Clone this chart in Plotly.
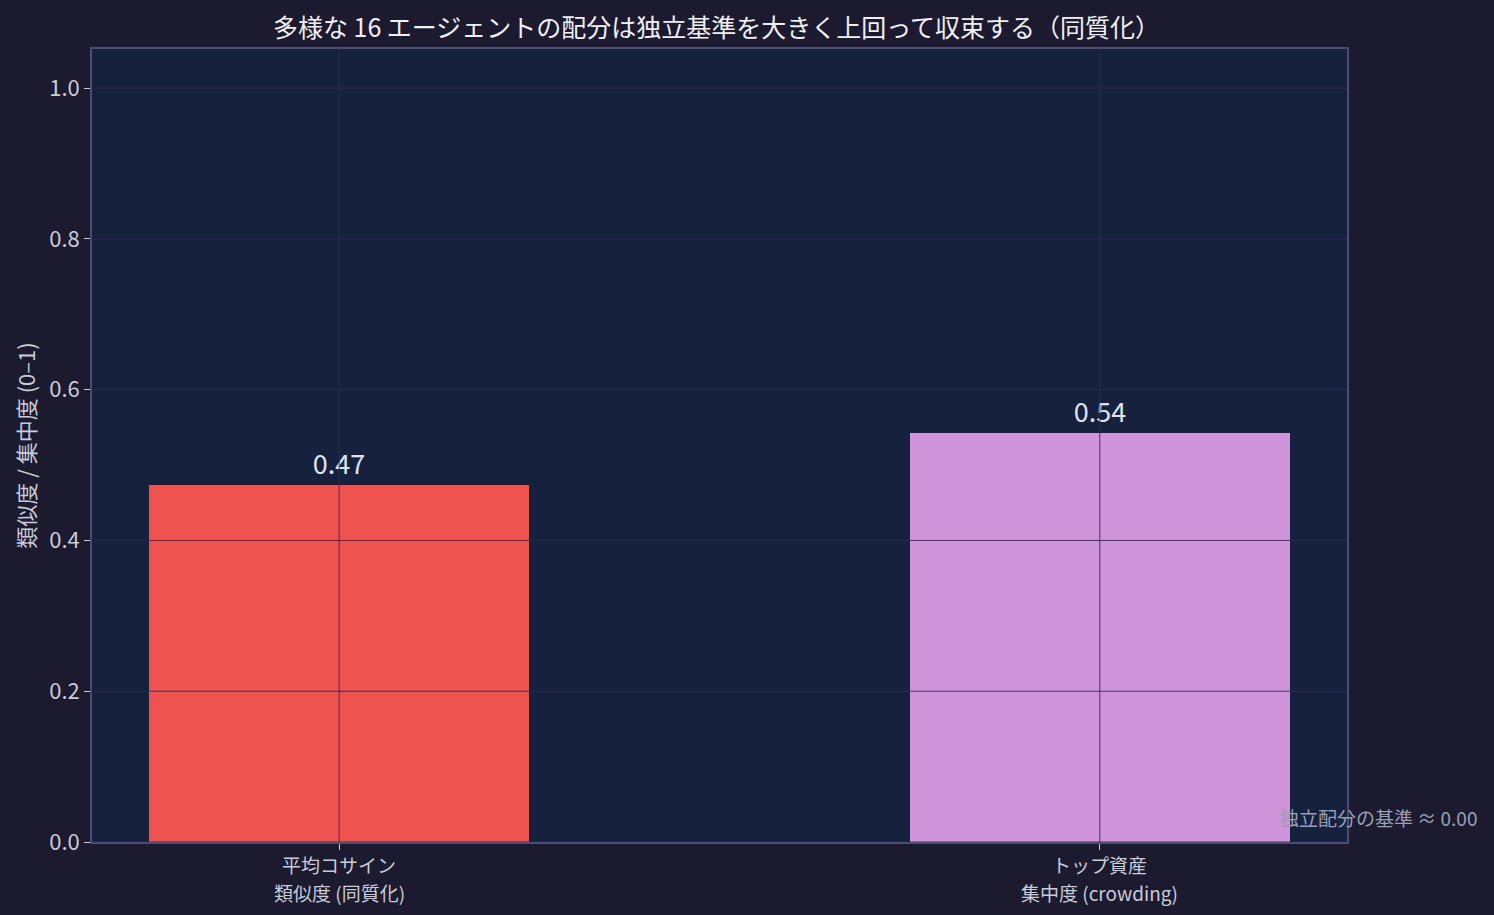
import plotly.graph_objects as go

cat_line1 = ["平均コサイン", "トップ資産"]
cat_line2 = ["類似度 (同質化)", "集中度 (crowding)"]
values = [0.474, 0.543]
bar_colors = ["#ef5350", "#ce93d8"]
y_ticks = [0.0, 0.2, 0.4, 0.6, 0.8, 1.0]
baseline = 0.00

FONT = "Noto Sans CJK JP"
grid_col = "rgba(44,42,82,0.85)"
tick_col = "#c8cbd8"

fig = go.Figure()
fig.add_trace(go.Bar(
    x=[0, 1], y=values,
    width=0.5,
    marker=dict(color=bar_colors, line=dict(width=0)),
    text=[f"{v:.2f}" for v in values],
    textposition="outside",
    textfont=dict(size=27, color="#dfe3ee", family=FONT),
    cliponaxis=False,
    hoverinfo="skip",
))

# grid drawn above the bars
shapes = []
for t in y_ticks:
    shapes.append(dict(type="line", xref="paper", yref="y", x0=0, x1=1, y0=t, y1=t,
                       line=dict(color=grid_col, width=1), layer="above"))
for i in range(len(cat_line1)):
    shapes.append(dict(type="line", xref="x", yref="paper", x0=i, x1=i, y0=0, y1=1,
                       line=dict(color=grid_col, width=1), layer="above"))

annotations = []
# two-line category labels, one annotation per line
for i in range(len(cat_line1)):
    for line, shift in ((cat_line1[i], -22), (cat_line2[i], -50)):
        annotations.append(dict(text=line, xref="x", yref="paper", x=i, y=0,
                                yshift=shift, yanchor="middle", showarrow=False,
                                font=dict(size=19, color=tick_col, family=FONT)))
annotations.append(dict(
    text=f"独立配分の基準 ≈ {baseline:.2f}",
    xref="paper", yref="y", x=1.1052, y=baseline + 0.032,
    xanchor="right", yanchor="middle", showarrow=False,
    font=dict(size=19, color="#9a9fb5", family=FONT),
))

fig.update_layout(
    width=1494, height=915,
    paper_bgcolor="#1c1a2e",
    plot_bgcolor="#16213e",
    font=dict(family=FONT, color=tick_col, size=22),
    title=dict(text="多様な 16 エージェントの配分は独立基準を大きく上回って収束する（同質化）",
               x=0.4796, xanchor="center", y=0.9694, yanchor="middle",
               font=dict(size=25, color="#f0f0f5", family=FONT)),
    margin=dict(l=92, r=147, t=49, b=73),
    showlegend=False,
    bargap=0,
    shapes=shapes,
    annotations=annotations,
)

fig.update_xaxes(
    range=[-0.325, 1.325],
    tickmode="array", tickvals=[0, 1], showticklabels=False,
    showgrid=False, zeroline=False,
    showline=True, linecolor="#4a4d70", linewidth=1.5, mirror=True,
    ticks="outside", ticklen=6, tickcolor=tick_col,
)
fig.update_yaxes(
    range=[0, 1.052],
    tickmode="array", tickvals=y_ticks, ticktext=[f"{t:.1f}" for t in y_ticks],
    showgrid=False, zeroline=False,
    showline=True, linecolor="#4a4d70", linewidth=1.5, mirror=True,
    ticks="outside", ticklen=6, tickcolor=tick_col,
    tickfont=dict(size=22, color=tick_col),
    title=dict(text="類似度 / 集中度 (0–1)", font=dict(size=22, color=tick_col), standoff=8),
)

fig.write_html("out.html", config={"displayModeBar": False},
               post_script="document.body.style.margin='0';")
